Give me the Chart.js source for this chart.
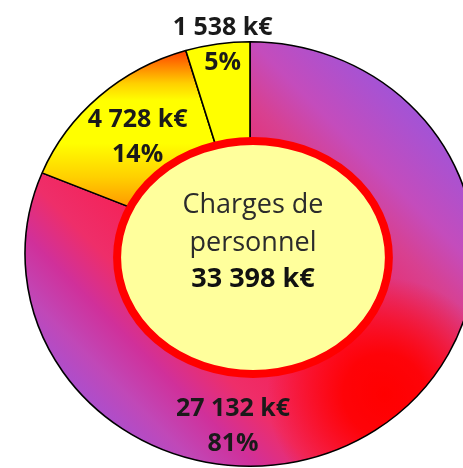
<!DOCTYPE html>
<html>
<head>
<meta charset="utf-8">
<script src="https://cdn.jsdelivr.net/npm/chart.js@4.4.1/dist/chart.umd.min.js"></script>
<style>
    html, body { margin: 0; padding: 0; background: #fff; overflow: hidden; }
    #wrap { width: 463px; height: 468px; position: relative; }
</style>
</head>
<body>
<div id="wrap"><canvas id="chart"></canvas></div>
<script>
// Data (k€)
const categories = ["Poste 1", "Poste 2", "Poste 3"];
const values = [27132, 4728, 1538];
const valueLabels = ["27 132 k€", "4 728 k€", "1 538 k€"];
const percentLabels = ["81%", "14%", "5%"];
const centerLines = ["Charges de", "personnel"];
const totalLabel = "33 398 k€";

// Where each slice's two-line label sits: angle (deg, clockwise from top) and radius factor
const labelAnchors = [
    { angle: 185.1, r: 0.846 },
    { angle: 315.8, r: 0.714 },
    { angle: 352.7, r: 0.954 }
];

const FONT = "'Open Sans', sans-serif";
const STRETCH_X = 1.06;   // the original ring is slightly wider than tall

function geometry(chart) {
    const a = chart.chartArea;
    const cx = (a.left + a.right) / 2;
    const cy = (a.top + a.bottom) / 2;
    const R = Math.min(a.right - a.left, a.bottom - a.top) / 2;
    return { cx, cy, R };
}

// Purple -> pink -> purple sweep with a red glow at the lower right
let bigPattern = null;
function bigSliceFill(chart) {
    if (bigPattern) return bigPattern;
    const { cx, cy, R } = geometry(chart);
    const off = document.createElement('canvas');
    off.width = chart.width;
    off.height = chart.height;
    const o = off.getContext('2d');
    const d = 1.22 * R / Math.SQRT2;
    const g = o.createLinearGradient(cx - d, cy + d, cx + d, cy - d);
    g.addColorStop(0, '#9455e5');
    g.addColorStop(0.14, '#c048b8');
    g.addColorStop(0.22, '#d0309a');
    g.addColorStop(0.3, '#ee2e6a');
    g.addColorStop(0.5, '#fa1848');
    g.addColorStop(0.71, '#d84090');
    g.addColorStop(0.79, '#c44cbc');
    g.addColorStop(0.95, '#9b55dc');
    g.addColorStop(1, '#9a56e2');
    o.fillStyle = g;
    o.fillRect(0, 0, off.width, off.height);
    const gx = cx + 0.63 * R, gy = cy + 0.66 * R;
    const rg = o.createRadialGradient(gx, gy, 0, gx, gy, 0.55 * R);
    rg.addColorStop(0, 'rgba(255,0,0,1)');
    rg.addColorStop(0.35, 'rgba(255,0,0,0.9)');
    rg.addColorStop(1, 'rgba(255,0,0,0)');
    o.fillStyle = rg;
    o.fillRect(0, 0, off.width, off.height);
    bigPattern = chart.ctx.createPattern(off, 'no-repeat');
    // undo the ring stretch so the colours land where designed
    bigPattern.setTransform(new DOMMatrix().translate(cx, 0).scale(1 / STRETCH_X, 1).translate(-cx, 0));
    return bigPattern;
}

function sliceFill(context) {
    const chart = context.chart;
    if (!chart.chartArea) return '#ccc';
    const { cx, cy, R } = geometry(chart);
    const ctx = chart.ctx;
    if (context.dataIndex === 0) return bigSliceFill(chart);
    if (context.dataIndex === 1) {
        const g = ctx.createLinearGradient(0, cy - R, 0, cy - 0.2 * R);
        g.addColorStop(0, '#ff1a00');
        g.addColorStop(0.1, '#ff6000');
        g.addColorStop(0.25, '#ffd000');
        g.addColorStop(0.35, '#ffff00');
        g.addColorStop(0.6, '#ffff00');
        g.addColorStop(0.8, '#ffd000');
        g.addColorStop(1, '#ff9000');
        return g;
    }
    return '#ffff00';
}

// Stretch the ring, then the light yellow ellipse with the total in the middle
const centerPlugin = {
    id: 'centerLabel',
    beforeDatasetsDraw(chart) {
        const { cx } = geometry(chart);
        const ctx = chart.ctx;
        ctx.save();
        ctx.translate(cx, 0);
        ctx.scale(STRETCH_X, 1);
        ctx.translate(-cx, 0);
    },
    afterDatasetsDraw(chart) {
        const ctx = chart.ctx;
        ctx.restore();
        const { cx, cy, R } = geometry(chart);
        const ex = cx + 0.014 * R, ey = cy + 0.016 * R;
        ctx.save();
        ctx.beginPath();
        ctx.ellipse(ex, ey, 0.638 * R, 0.547 * R, 0, 0, Math.PI * 2);
        ctx.fillStyle = '#ffff9c';
        ctx.fill();
        ctx.lineWidth = 8;
        ctx.strokeStyle = '#ff0000';
        ctx.stroke();

        ctx.textAlign = 'center';
        ctx.textBaseline = 'alphabetic';
        ctx.fillStyle = '#2b2b2b';
        ctx.font = `27px ${FONT}`;
        ctx.fillText(centerLines[0], ex, ey - 44.5);
        ctx.fillText(centerLines[1], ex, ey - 6.5);
        ctx.fillStyle = '#111';
        ctx.font = `bold 27px ${FONT}`;
        ctx.fillText(totalLabel, ex, ey + 29.5);
        ctx.restore();
    }
};

// Value + percent labels for each slice
const labelPlugin = {
    id: 'sliceLabels',
    afterDraw(chart) {
        const { cx, cy, R } = geometry(chart);
        const ctx = chart.ctx;
        ctx.save();
        ctx.textAlign = 'center';
        ctx.textBaseline = 'alphabetic';
        ctx.fillStyle = '#1a1a1a';
        ctx.font = `bold 25px ${FONT}`;
        labelAnchors.forEach((a, i) => {
            const rad = a.angle * Math.PI / 180;
            const x = cx + STRETCH_X * a.r * R * Math.sin(rad);
            const y = cy - a.r * R * Math.cos(rad);
            ctx.fillText(valueLabels[i], x, y - 17.5);
            ctx.fillText(percentLabels[i], x, y + 17.5);
        });
        ctx.restore();
    }
};

new Chart(document.getElementById('chart'), {
    type: 'doughnut',
    data: {
        labels: categories,
        datasets: [{
            data: values,
            backgroundColor: sliceFill,
            borderColor: '#000',
            borderWidth: 1.5
        }]
    },
    options: {
        responsive: true,
        maintainAspectRatio: false,
        animation: false,
        cutout: '52%',
        layout: { padding: { top: 40, left: 37, right: 0, bottom: 0 } },
        plugins: { legend: { display: false }, tooltip: { enabled: false } }
    },
    plugins: [centerPlugin, labelPlugin]
});
</script>
</body>
</html>
